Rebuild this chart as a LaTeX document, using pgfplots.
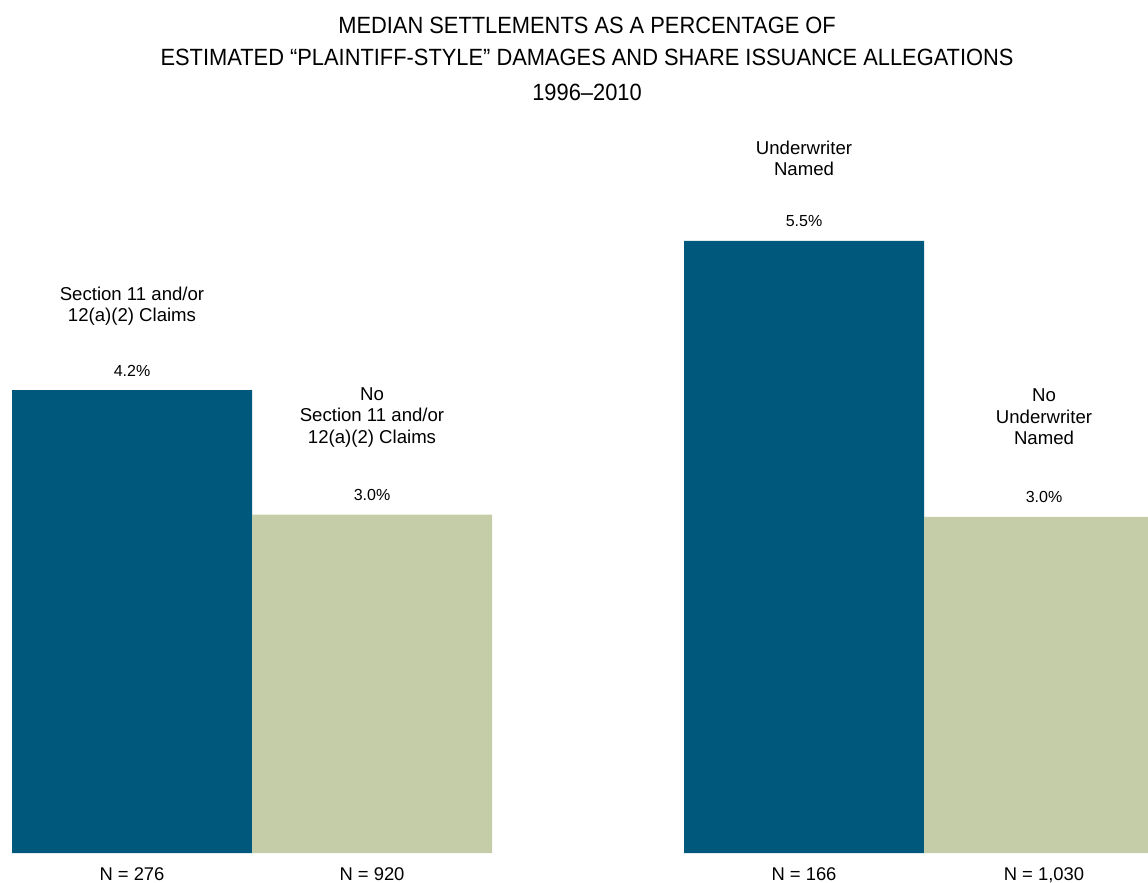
\documentclass[border=0pt]{standalone}
\usepackage{pgfplots}
\pgfplotsset{compat=1.18}
\usepackage{fontspec}
\setmainfont{Liberation Sans}
\newfontfamily\titlefont[FakeStretch=0.93]{Liberation Sans}
\definecolor{cblue}{RGB}{0,88,124}
\definecolor{csage}{RGB}{196,204,168}
\begin{document}
\begin{tikzpicture}
\begin{axis}[
  width=574pt, height=441pt, scale only axis,
  xmin=0, xmax=4.78333, ymin=-0.26056, ymax=7.66397,
  axis line style={draw=none}, tick style={draw=none},
  ytick=\empty,
  xtick={0.55,1.55,3.35,4.35},
  xticklabels={N = 276, N = 920, N = 166, {N = 1,030}},
  xticklabel style={anchor=base, yshift=5pt, inner sep=0pt, font=\fontsize{9.2}{10}\selectfont},
  ybar, bar width=1, bar shift=0pt,
  /pgf/number format/assume math mode=true,
  nodes near coords={\pgfmathprintnumber[fixed,fixed zerofill,precision=1]{\pgfplotspointmeta}\%},
  every node near coord/.append style={anchor=base, yshift=7pt, inner sep=0pt, font=\fontsize{8}{9}\selectfont, text=black},
  clip=true,
]
\addplot[fill=cblue, draw=none] coordinates {(0.55,4.16) (3.35,5.50)};
\addplot[fill=csage, draw=none] coordinates {(1.55,3.04) (4.35,3.02)};
\node[anchor=base, align=center, font=\fontsize{9.3}{10.6}\selectfont] at (axis cs:0.55,4.774) {Section 11 and/or\\12(a)(2) Claims};
\node[anchor=base, align=center, font=\fontsize{9.3}{10.8}\selectfont] at (axis cs:1.55,3.680) {No\\Section 11 and/or\\12(a)(2) Claims};
\node[anchor=base, align=center, font=\fontsize{9.3}{10.6}\selectfont] at (axis cs:3.35,6.083) {Underwriter\\Named};
\node[anchor=base, align=center, font=\fontsize{9.3}{10.8}\selectfont] at (axis cs:4.35,3.666) {No\\Underwriter\\Named};
\node[anchor=base, align=center, font=\titlefont\fontsize{11.75}{16}\selectfont] at (axis cs:2.446,6.765) {MEDIAN SETTLEMENTS AS A PERCENTAGE OF\\ESTIMATED “PLAINTIFF-STYLE” DAMAGES AND SHARE ISSUANCE ALLEGATIONS\\[1.5pt]1996–2010};
\coordinate (bl) at (rel axis cs:0,0);
\coordinate (tr) at (rel axis cs:1,1);
\end{axis}
\pgfresetboundingbox
\useasboundingbox (bl) rectangle (tr);
\end{tikzpicture}
\end{document}
